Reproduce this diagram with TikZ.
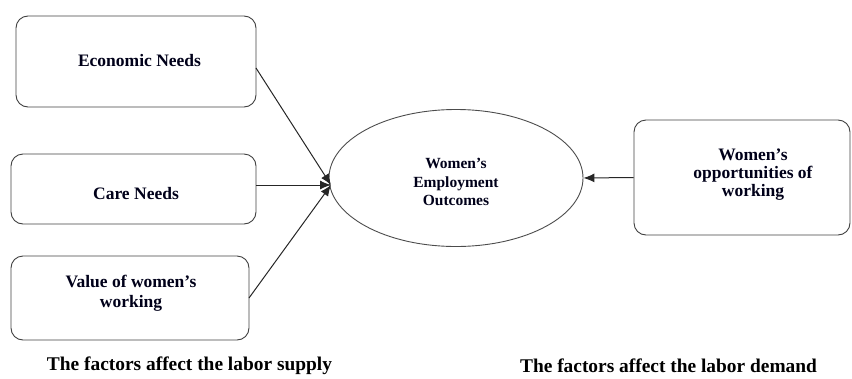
\documentclass[tikz,border=0pt]{standalone}
\usepackage{fontspec}
\setmainfont{Liberation Serif}
\usetikzlibrary{arrows.meta,shapes.geometric}
\begin{document}
\begin{tikzpicture}[x=1pt,y=-1pt,
  box/.style={draw=black!75,line width=0.9pt,rounded corners=12pt,rectangle,inner sep=0pt},
  lbl/.style={font=\fontsize{17.5}{19.5}\selectfont\bfseries,align=center,text=black!90!blue,inner sep=0pt},
  elbl/.style={font=\fontsize{15.5}{18.5}\selectfont\bfseries,align=center,text=black!90!blue,inner sep=0pt},
  blbl/.style={font=\fontsize{19.4}{22}\selectfont\bfseries,align=center,text=black,inner sep=0pt},
  conn/.style={draw=black!85,line width=1pt,-{Latex[length=11pt,width=9pt]}}]
\useasboundingbox (0,0) rectangle (852,378);
\node[box,minimum width=240pt,minimum height=91pt] (b1) at (136,61.5) {};
\node[lbl] (t1) at (139.5,61) {Economic Needs};
\node[box,minimum width=245pt,minimum height=70pt] (b2) at (133.5,189) {};
\node[lbl] (t2) at (136,194) {Care Needs};
\node[box,minimum width=238pt,minimum height=84pt] (b3) at (130,298) {};
\node[lbl] (t3) at (131,293.5) {Value of women's\\working};
\node[box,minimum width=216pt,minimum height=115pt] (b4) at (742,177.5) {};
\node[lbl,font=\fontsize{17.5}{18}\selectfont\bfseries] (t4) at (753,175) {Women's\\opportunities of\\working};
\node[draw=black!70,line width=0.9pt,ellipse,minimum width=254pt,minimum height=137pt,inner sep=0pt] (e) at (456,178) {};
\node[elbl] (te) at (456,182) {Women's\\Employment\\Outcomes};
\coordinate (p1) at (256,68);
\coordinate (p3) at (249,298);
\coordinate (hit) at (331,185);
\draw[conn] (p1) -- (hit);
\draw[conn] (b2.east |- hit) -- (hit);
\draw[conn] (p3) -- (hit);
\draw[conn] (b4.west) -- (e.east);
\node[blbl] (s) at (189.5,366) {The factors affect the labor supply};
\node[blbl] (d) at (668.5,366) {The factors affect the labor demand};
\end{tikzpicture}
\end{document}
